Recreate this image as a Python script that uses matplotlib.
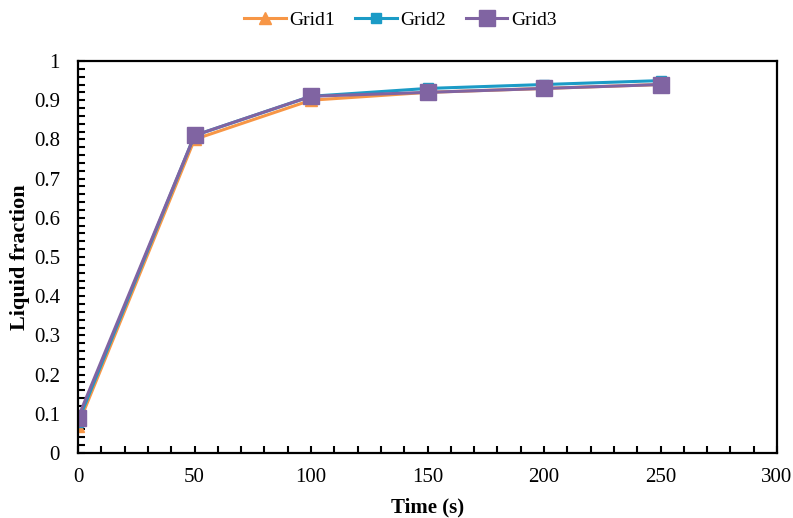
import matplotlib
matplotlib.use("Agg")
import matplotlib.pyplot as plt
from matplotlib.ticker import MultipleLocator

plt.rcParams['font.family'] = ['Liberation Serif', 'DejaVu Serif']

time = [0, 50, 100, 150, 200, 250]
grid1 = [0.07, 0.80, 0.90, 0.92, 0.93, 0.94]
grid2 = [0.08, 0.81, 0.91, 0.93, 0.94, 0.95]
grid3 = [0.09, 0.81, 0.91, 0.92, 0.93, 0.94]

fig = plt.figure(figsize=(7.93, 5.18), dpi=100)
ax = fig.add_axes([78/793, 1-453/518, (777-78)/793, (453-61)/518])

ax.plot(time, grid1, color='#F79646', lw=2.2, marker='^', ms=8, label='Grid1')
ax.plot(time, grid2, color='#1B9BC6', lw=2.2, marker='s', ms=7, label='Grid2')
ax.plot(time, grid3, color='#8064A2', lw=2.2, marker='s', ms=11, label='Grid3')

ax.set_xlim(0, 300)
ax.set_ylim(0, 1)
ax.xaxis.set_major_locator(MultipleLocator(50))
ax.xaxis.set_minor_locator(MultipleLocator(10))
ax.yaxis.set_minor_locator(MultipleLocator(0.02))
ax.set_yticks([i/10 for i in range(11)])
ax.set_yticklabels(['0'] + [f'{i/10:g}' for i in range(1, 11)])

for s in ax.spines.values():
    s.set_linewidth(1.6)
ax.tick_params(which='both', direction='in', width=1.5, labelsize=15)
ax.tick_params(axis='y', pad=13)
ax.tick_params(axis='x', pad=11)
ax.tick_params(which='major', length=5)
ax.tick_params(which='minor', length=5)
ax.tick_params(axis='y', which='both', left=True, right=False)
ax.tick_params(axis='x', which='both', bottom=True, top=False)

ax.set_xlabel('Time (s)', fontsize=15, fontweight='bold', labelpad=7)
ax.set_ylabel('Liquid fraction', fontsize=16, fontweight='bold', labelpad=3)

fig.legend(loc='upper center', bbox_to_anchor=(0.505, 1.012), ncol=3, frameon=False,
           fontsize=14, handlelength=2.15, columnspacing=1.0, handletextpad=0.2)

fig.savefig('out.png', dpi=100)
